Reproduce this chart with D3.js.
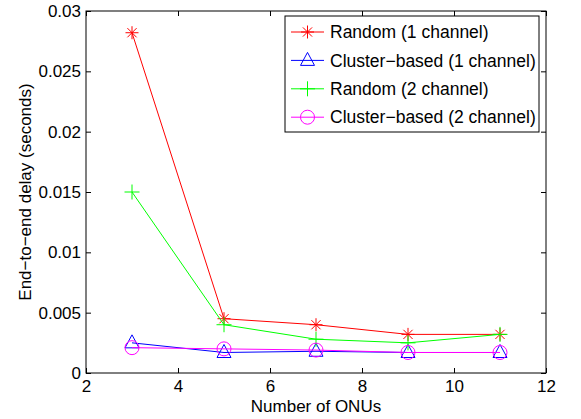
<!DOCTYPE html>
<html>
<head>
<meta charset="utf-8">
<script src="https://cdn.jsdelivr.net/npm/d3@7"></script>
<style>
  body { margin: 0; background: #fff; }
  text { font-family: "Liberation Sans", Arial, sans-serif; }
</style>
</head>
<body>
<script>
// data
var onus = [3, 5, 7, 9, 11];
var random1 = [0.0282, 0.0045, 0.0040, 0.0032, 0.0032];
var cluster1 = [0.0025, 0.0017, 0.0018, 0.0017, 0.0017];
var random2 = [0.0150, 0.0040, 0.0028, 0.0025, 0.0032];
var cluster2 = [0.0021, 0.0020, 0.0019, 0.0017, 0.0017];

var xTicks = [2, 4, 6, 8, 10, 12];
var yTicks = [0, 0.005, 0.01, 0.015, 0.02, 0.025, 0.03];

var series = [
    { name: "Random (1 channel)", values: random1, color: "#ff0000", marker: "star" },
    { name: "Cluster\u2212based (1 channel)", values: cluster1, color: "#0000ff", marker: "triangle" },
    { name: "Random (2 channel)", values: random2, color: "#00ff00", marker: "plus" },
    { name: "Cluster\u2212based (2 channel)", values: cluster2, color: "#ff00ff", marker: "circle" }
];

var width = 581, height = 419;
var plotL = 86, plotR = 546, plotT = 11, plotB = 373;

var svg = d3.select("body").append("svg")
    .attr("width", width)
    .attr("height", height);

var x = d3.scaleLinear().domain([2, 12]).range([plotL, plotR]);
var y = d3.scaleLinear().domain([0, 0.03]).range([plotB, plotT]);

// box
svg.append("rect")
    .attr("x", plotL).attr("y", plotT)
    .attr("width", plotR - plotL).attr("height", plotB - plotT)
    .attr("fill", "none").attr("stroke", "#000").attr("stroke-width", 1);

// ticks inside on all four sides
var tickLen = 5;
var fmtY = function(d) { return d === 0 ? "0" : String(+d.toFixed(3)); };

var xAxisB = d3.axisBottom(x).tickValues(xTicks).tickSizeInner(-tickLen).tickSizeOuter(0).tickPadding(7);
var xAxisT = d3.axisTop(x).tickValues(xTicks).tickSizeInner(-tickLen).tickSizeOuter(0).tickFormat("");
var yAxisL = d3.axisLeft(y).tickValues(yTicks).tickSizeInner(-tickLen).tickSizeOuter(0).tickPadding(5).tickFormat(fmtY);
var yAxisR = d3.axisRight(y).tickValues(yTicks).tickSizeInner(-tickLen).tickSizeOuter(0).tickFormat("");

svg.append("g").attr("transform", "translate(0," + plotB + ")").call(xAxisB);
svg.append("g").attr("transform", "translate(0," + plotT + ")").call(xAxisT);
svg.append("g").attr("transform", "translate(" + plotL + ",0)").call(yAxisL);
svg.append("g").attr("transform", "translate(" + plotR + ",0)").call(yAxisR);

svg.selectAll(".domain").remove();
svg.selectAll(".tick line").attr("stroke", "#000");
svg.selectAll(".tick text")
    .attr("fill", "#000")
    .style("font-size", "17px")
    .style("font-family", "'Liberation Sans', Arial, sans-serif");

// axis labels
svg.append("text")
    .attr("x", (plotL + plotR) / 2)
    .attr("y", 412)
    .attr("text-anchor", "middle")
    .style("font-size", "17px")
    .text("Number of ONUs");

svg.append("text")
    .attr("transform", "translate(31," + ((plotT + plotB) / 2) + ") rotate(-90)")
    .attr("text-anchor", "middle")
    .style("font-size", "17px")
    .text("End\u2212to\u2212end delay (seconds)");

// marker drawing
function drawMarker(g, type, color) {
    if (type === "star") {
        var r = 6.5, d = 4.6;
        g.append("path")
            .attr("d", "M0," + (-r) + "V" + r + "M" + (-r) + ",0H" + r +
                "M" + (-d) + "," + (-d) + "L" + d + "," + d +
                "M" + (-d) + "," + d + "L" + d + "," + (-d))
            .attr("stroke", color).attr("fill", "none");
    } else if (type === "plus") {
        var p = 7.5;
        g.append("path")
            .attr("d", "M0," + (-p) + "V" + p + "M" + (-p) + ",0H" + p)
            .attr("stroke", color).attr("fill", "none");
    } else if (type === "triangle") {
        g.append("path")
            .attr("d", "M0,-8L7,5L-7,5Z")
            .attr("stroke", color).attr("fill", "none");
    } else {
        g.append("circle").attr("r", 7)
            .attr("stroke", color).attr("fill", "none");
    }
}

var line = d3.line()
    .x(function(d, i) { return x(onus[i]); })
    .y(function(d) { return y(d); });

series.forEach(function(s) {
    svg.append("path")
        .datum(s.values)
        .attr("d", line)
        .attr("fill", "none")
        .attr("stroke", s.color)
        .attr("stroke-width", 1);
    s.values.forEach(function(v, i) {
        var g = svg.append("g")
            .attr("transform", "translate(" + x(onus[i]) + "," + y(v) + ")");
        drawMarker(g, s.marker, s.color);
    });
});

// legend
var lg = svg.append("g");
lg.append("rect")
    .attr("x", 285).attr("y", 16)
    .attr("width", 254).attr("height", 116)
    .attr("fill", "#fff").attr("stroke", "#000");

series.forEach(function(s, i) {
    var ly = 32 + i * 28.4;
    lg.append("line")
        .attr("x1", 291).attr("x2", 324)
        .attr("y1", ly).attr("y2", ly)
        .attr("stroke", s.color);
    var g = lg.append("g").attr("transform", "translate(307.5," + ly + ")");
    drawMarker(g, s.marker, s.color);
    lg.append("text")
        .attr("x", 330).attr("y", ly)
        .attr("dy", "0.35em")
        .style("font-size", "17.5px")
        .text(s.name);
});
</script>
</body>
</html>
